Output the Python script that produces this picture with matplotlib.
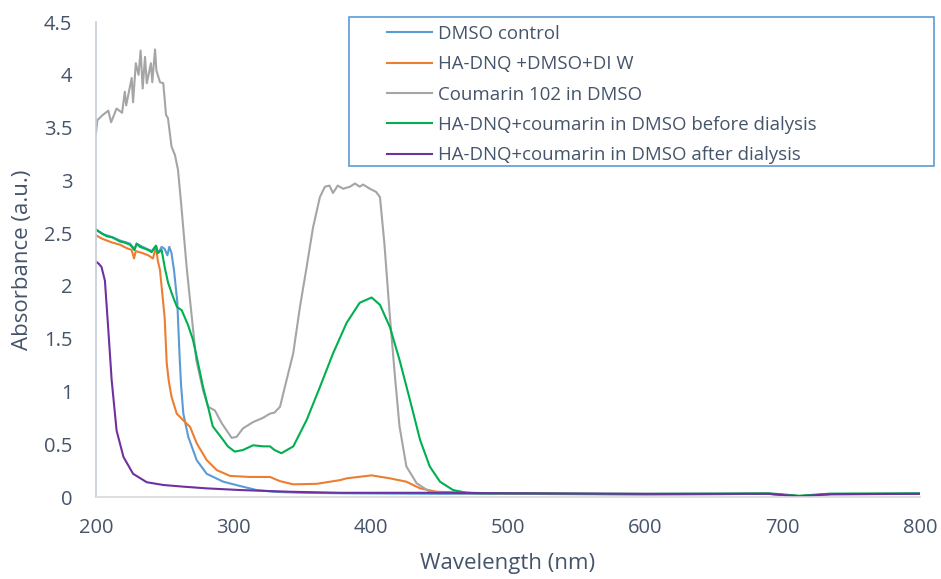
import matplotlib.pyplot as plt
from matplotlib.patches import Rectangle

plt.rcParams['font.family'] = ['Open Sans', 'DejaVu Sans']

# UV-Vis absorbance spectra (wavelength in nm, absorbance in a.u.)
wl_dmso = [200, 205, 210, 217.5, 224.8, 228, 229.6, 234, 240.5, 243.7, 245, 246.6, 247.8, 250,
           252, 253.4, 255, 256.8, 258, 259.2, 260, 261, 262, 263.6, 267.2, 273.3, 280.6, 292.7,
           305, 317, 329, 350, 380, 450, 500, 600, 690, 712, 735, 800]
abs_dmso = [2.53, 2.49, 2.47, 2.43, 2.40, 2.35, 2.40, 2.37, 2.33, 2.38, 2.32, 2.34, 2.37, 2.35,
            2.29, 2.37, 2.31, 2.15, 2.00, 1.85, 1.60, 1.30, 1.05, 0.79, 0.57, 0.35, 0.22, 0.145,
            0.104, 0.066, 0.05, 0.04, 0.035, 0.03, 0.03, 0.025, 0.03, 0.008, 0.028, 0.03]

wl_hadnq = [200, 204, 207.8, 212, 217.5, 222, 226, 227.7, 229, 234, 238, 241.5, 243.7, 245, 246.6,
            248.5, 250, 251.5, 253, 255, 258.8, 264.8, 268.5, 273.3, 280.6, 287.9, 297.6, 312,
            326.7, 334, 343.7, 360.7, 377.7, 382.5, 400.7, 414, 426, 436, 448, 480, 550, 600,
            690, 712, 735, 800]
abs_hadnq = [2.48, 2.45, 2.43, 2.41, 2.39, 2.36, 2.34, 2.26, 2.33, 2.31, 2.29, 2.26, 2.37, 2.24, 2.15,
             1.90, 1.70, 1.27, 1.10, 0.95, 0.79, 0.71, 0.665, 0.51, 0.35, 0.255, 0.20, 0.19,
             0.19, 0.15, 0.12, 0.125, 0.16, 0.177, 0.205, 0.177, 0.145, 0.082, 0.05, 0.038, 0.03, 0.025,
             0.03, 0.008, 0.028, 0.03]

wl_cou = [200, 201, 205, 209, 211, 215, 219, 221, 222, 226, 227, 229, 231, 232.5, 234, 235.7, 237,
          240, 241, 243, 244, 246.6, 249, 251, 252.4, 255, 257.5, 259.7, 262, 266, 269, 273, 278,
          281.6, 286.6, 291.5, 298.8, 302.4, 307, 314.4, 321.6, 326.7, 330, 334, 338.8, 343.6,
          348.5, 353.4, 358, 363, 366.7, 370, 372.6, 376, 380, 385, 388.6, 392, 394.5, 399.5, 404,
          406.8, 410, 414, 417.7, 421, 426, 433.5, 443, 460, 500, 600, 690, 712, 735, 800]
abs_cou = [3.45, 3.57, 3.62, 3.66, 3.55, 3.68, 3.64, 3.84, 3.71, 3.97, 3.74, 4.11, 4.00, 4.23, 3.87, 4.17, 3.92,
           4.11, 3.93, 4.24, 4.04, 3.93, 3.92, 3.62, 3.59, 3.32, 3.24, 3.10, 2.78, 2.18, 1.80, 1.30, 1.01,
           0.855, 0.82, 0.70, 0.56, 0.57, 0.65, 0.71, 0.75, 0.79, 0.80, 0.855, 1.11, 1.36,
           1.80, 2.18, 2.55, 2.84, 2.94, 2.95, 2.88, 2.95, 2.92, 2.94, 2.97, 2.94, 2.96, 2.92, 2.89,
           2.84, 2.40, 1.71, 1.14, 0.67, 0.29, 0.13, 0.05, 0.035, 0.03, 0.025, 0.03, 0.005, 0.025, 0.03]

wl_before = [200, 204, 207.8, 212, 217.5, 221, 224.8, 228, 229.6, 232, 234, 238, 240.5, 243.7, 245,
             247.8, 250, 252.5, 256, 259, 262.4, 267, 270.6, 273.3, 278, 281.6, 285, 291.5, 296, 301,
             307, 314.4, 321.6, 326.7, 330, 335, 343.7, 353.4, 363, 372.6, 382.5, 392, 400.7, 406.8,
             414, 421, 428.6, 436, 443, 450.5, 460, 470, 480, 500, 600, 690, 712, 735, 800]
abs_before = [2.535, 2.50, 2.47, 2.46, 2.42, 2.41, 2.39, 2.34, 2.40, 2.37, 2.36, 2.34, 2.32, 2.38, 2.31,
              2.34, 2.18, 2.03, 1.90, 1.80, 1.77, 1.63, 1.49, 1.33, 1.04, 0.855, 0.67, 0.56, 0.48, 0.43,
              0.445, 0.49, 0.48, 0.48, 0.445, 0.415, 0.48, 0.73, 1.04, 1.36, 1.65, 1.84, 1.89, 1.82,
              1.61, 1.30, 0.92, 0.54, 0.29, 0.145, 0.066, 0.04, 0.035, 0.035, 0.03, 0.035, 0.012, 0.032, 0.035]

wl_after = [200, 202, 204, 206.5, 209, 211.4, 215, 220, 227, 237, 249, 263.6, 280.6, 305, 341,
            377.7, 450, 500, 600, 690, 712, 735, 800]
abs_after = [2.23, 2.21, 2.18, 2.05, 1.58, 1.11, 0.63, 0.38, 0.22, 0.14, 0.114, 0.098, 0.082, 0.066, 0.05,
             0.04, 0.04, 0.035, 0.03, 0.03, 0.006, 0.027, 0.03]

series = [
    (wl_dmso, abs_dmso, '#5B9BD5', 'DMSO control'),
    (wl_hadnq, abs_hadnq, '#ED7D31', 'HA-DNQ +DMSO+DI W'),
    (wl_cou, abs_cou, '#A5A5A5', 'Coumarin 102 in DMSO'),
    (wl_before, abs_before, '#00B050', 'HA-DNQ+coumarin in DMSO before dialysis'),
    (wl_after, abs_after, '#7030A0', 'HA-DNQ+coumarin in DMSO after dialysis'),
]

text_col = '#44546A'

fig = plt.figure(figsize=(9.41, 5.79), dpi=100)
ax = fig.add_axes([0.102, 0.1416, 0.8757, 0.8204])

for x, y, c, lab in series:
    ax.plot(x, y, color=c, lw=1.5, label=lab)

ax.set_xlim(200, 800)
ax.set_ylim(0, 4.5)
ax.set_xticks(range(200, 801, 100))
ax.set_yticks([0, 0.5, 1, 1.5, 2, 2.5, 3, 3.5, 4, 4.5])
ax.set_yticklabels(['0', '0.5', '1', '1.5', '2', '2.5', '3', '3.5', '4', '4.5'])
ax.tick_params(axis='both', length=0, labelsize=14.5, labelcolor=text_col)
ax.tick_params(axis='x', pad=15)
ax.tick_params(axis='y', pad=17)

for s in ['top', 'right']:
    ax.spines[s].set_visible(False)
ax.spines['left'].set_color('#C5CCD8')
ax.spines['bottom'].set_color('#D9D9D9')
ax.spines['left'].set_linewidth(1.2)
ax.spines['bottom'].set_linewidth(1.2)

ax.set_xlabel('Wavelength (nm)', fontsize=16, color=text_col, labelpad=11)
ax.set_ylabel('Absorbance (a.u.)', fontsize=16, color=text_col, labelpad=8)

leg = ax.legend(loc='upper left', bbox_to_anchor=(387 / 941, 1 - 25 / 579), bbox_transform=fig.transFigure,
                frameon=False, fontsize=13.4, handlelength=2.42, handletextpad=0.32,
                labelspacing=0.66, borderpad=0, borderaxespad=0)
for t in leg.get_texts():
    t.set_color(text_col)

# legend frame
fig.patches.append(Rectangle((349 / 941, 1 - 166 / 579), (934 - 349) / 941, (166 - 17) / 579,
                             transform=fig.transFigure, fill=False, edgecolor='#5B9BD5', lw=1.2))

fig.savefig('out.png', dpi=100)
